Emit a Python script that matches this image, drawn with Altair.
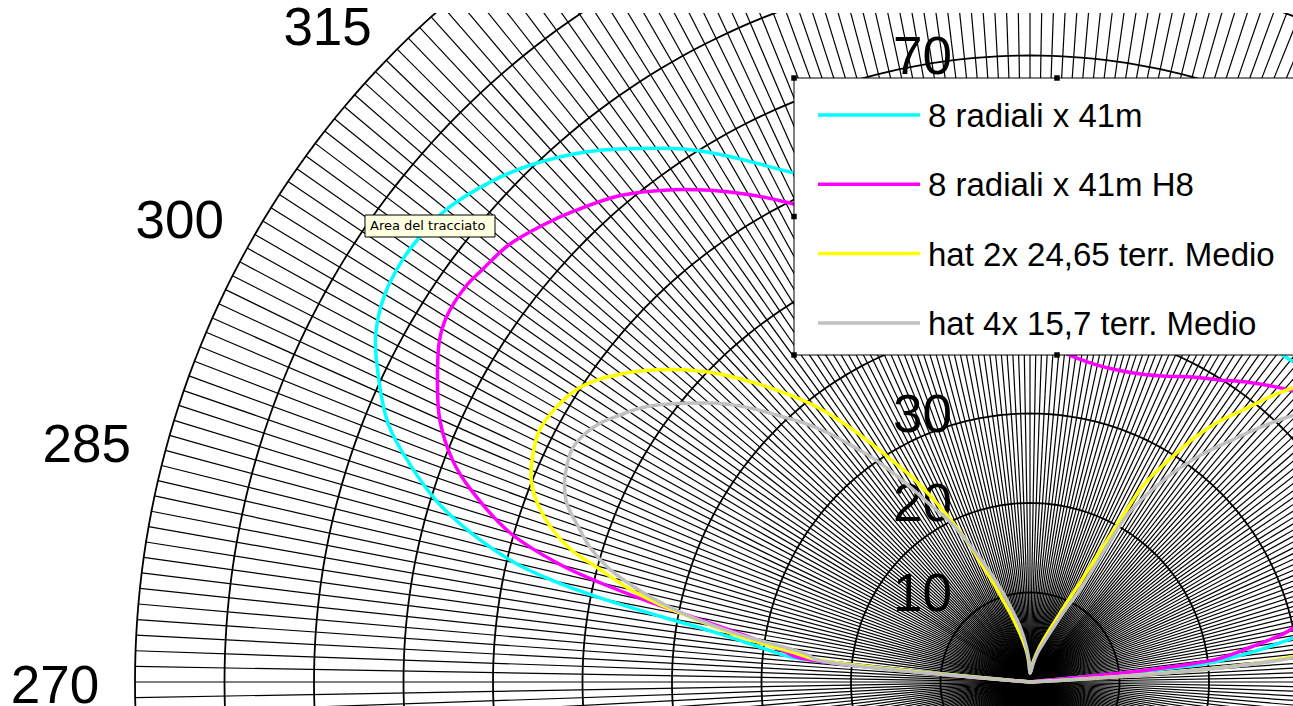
import math

import altair as alt
import pandas as pd

# ---------------------------------------------------------------------------
# Vertical radiation patterns (radar chart, 0 = zenith, 270 = left horizon)
# ---------------------------------------------------------------------------
SERIES = [
    "8 radiali x 41m",
    "8 radiali x 41m H8",
    "hat 2x 24,65 terr. Medio",
    "hat 4x 15,7 terr. Medio",
]
COLORS = ["#00FFFF", "#FF00FF", "#FFFF00", "#C0C0C0"]

CYAN_DEG = [270, 275, 276, 277, 279, 280, 281, 282, 283, 285, 287, 290, 292, 296, 298,
            301, 304, 306, 309, 313, 316, 320, 323, 327, 330, 335, 340, 345, 350, 355,
            0, 10, 20, 30, 38, 41, 45, 50, 55, 60, 65, 70, 75, 78, 80, 81, 82, 83, 84, 85, 90]
CYAN_VAL = [0, 0, 27, 29.5, 35.8, 41.5, 48.5, 54.5, 59, 64.8, 69.4, 74.5, 77.4, 81.2, 82.8,
            84.1, 84.5, 84.4, 83.9, 82.1, 80.3, 77.3, 74.6, 71.0, 67.9, 62.8, 59, 55, 52, 50,
            49, 47.5, 46, 46, 46.2, 46.5, 47.5, 49, 50, 50, 48, 44, 38, 34, 31, 28.5, 26, 23, 20, 0, 0]

MAGENTA_DEG = [270, 275, 276, 277, 279, 281, 282, 283, 284, 286, 289, 291, 294, 297, 300,
               302, 305, 307, 310, 313, 316, 320, 324, 327, 330, 333, 336, 340, 345, 350,
               355, 0, 5, 8, 12, 16, 20, 24, 28, 32, 36, 41, 45, 50, 55, 60, 65, 70, 74,
               77, 79, 81, 83, 84, 85, 90]
MAGENTA_VAL = [0, 0, 26, 27.5, 31.5, 38.8, 44, 49.3, 54, 60.4, 66.1, 69.1, 72.2, 74.3, 76.2,
               76.9, 77.0, 76.6, 76.0, 74.7, 73.2, 71.0, 68.0, 65.5, 62.9, 60.2, 57.5, 53.5,
               48.5, 44, 40.5, 38.5, 37.2, 36.6, 36.2, 36.2, 36.6, 37.4, 38.6, 39.8, 41.4,
               43.4, 45, 47, 47, 45, 42, 38, 35, 31.5, 29.2, 25, 21, 15, 0, 0]

YELLOW_DEG = [270, 275, 276, 277, 278, 279, 280, 281, 282, 283, 285, 286, 288, 290, 292,
              294, 297, 300, 303, 305, 307, 309, 311, 313, 315, 318, 320, 322, 324, 326,
              328, 330, 332, 334, 336, 338, 340, 342, 344, 347, 350, 354, 357, 0, 5, 10,
              15, 20, 23, 25, 27, 28, 29, 30, 32, 34, 36, 38, 41, 45, 50, 55, 60, 65, 70,
              75, 80, 84, 85, 90]
YELLOW_VAL = [0, 0, 24, 26.3, 29.5, 33, 36, 39.3, 42.8, 45.8, 50.5, 53.2, 56.4, 58.6, 60.1,
              60.9, 61.6, 61.2, 60.2, 58.9, 57.2, 55.3, 53.2, 51.0, 48.6, 44.6, 41.9, 39.2,
              36.0, 32.6, 29.3, 26.5, 23.3, 20.1, 17.0, 13.7, 11.5, 9.4, 8.0, 6.2, 4.8, 3.3,
              2.0, 1.0, 1.5, 2.5, 4.0, 6.0, 7.8, 10.0, 13.0, 16.0, 20.0, 25.5, 29.2, 33.0,
              36.0, 38.5, 43.0, 48, 52, 53, 52, 50, 46, 41, 36, 31, 0, 0]

GRAY_DEG = [270, 275, 276, 277, 278, 279, 280, 281, 282, 283, 285, 287, 289, 291, 293,
            295, 297, 299, 301, 303, 305, 307, 309, 311, 313, 315, 317, 319, 321, 323,
            325, 327, 329, 331, 333, 335, 337, 340, 343, 346, 349, 352, 355, 358, 0, 5,
            10, 15, 20, 23, 26, 28, 29, 30, 31, 33, 35, 37, 40, 42, 44, 46, 50, 55, 60,
            65, 70, 75, 80, 84, 85, 90]
GRAY_VAL = [0, 0, 24, 25, 27.5, 31.8, 35.5, 39, 41.8, 44.4, 48.6, 51.4, 53.4, 55.4, 56.5,
            57.1, 57.4, 57.0, 56.1, 54.7, 53.3, 51.5, 49.5, 47.5, 45.4, 43.0, 40.5, 38.3,
            35.8, 33.0, 30.5, 27.6, 24.8, 22.3, 20.5, 18.2, 16.0, 13.0, 10.5, 8.3, 6.6,
            5.0, 3.5, 2.0, 1.0, 1.2, 2.2, 3.5, 5.0, 6.5, 9.0, 11.0, 13.5, 21.0, 23.2, 26.3,
            29.2, 31.8, 35.4, 38.2, 41.0, 43.5, 47, 50, 51, 50, 47, 42, 37, 32, 0, 0]

PATTERNS = [
    (CYAN_DEG, CYAN_VAL),
    (MAGENTA_DEG, MAGENTA_VAL),
    (YELLOW_DEG, YELLOW_VAL),
    (GRAY_DEG, GRAY_VAL),
]

RING_VALUES = [10, 20, 30, 40, 50, 60, 70, 80, 90, 100]
VALUE_TICKS = [10, 20, 30, 70]          # value labels left clear of the legend
SPOKE_STEP = 1                          # one category per degree
ANGLE_TICKS = [270, 285, 300, 315]      # rim labels inside the visible window
TOOLTIP_TEXT = "Area del tracciato"

# ---------------------------------------------------------------------------
# Layout of the (zoomed-in) plot area
# ---------------------------------------------------------------------------
W, H, TOP = 1293, 706, 13
VIEW_H = H - TOP
CX, CY = 1030.0, 682.0            # pixel position of the pole
PX = 8.95                         # pixels per radial unit
R_MAX = RING_VALUES[-1]
LABEL_R = 104

x_scale = alt.Scale(domain=[-CX / PX, (W - CX) / PX], nice=False, zero=False)
y_scale = alt.Scale(domain=[(CY - H) / PX, (CY - TOP) / PX], nice=False, zero=False)


def polar(deg, r):
    a = math.radians(deg)
    return r * math.sin(a), r * math.cos(a)


def X(field):
    return alt.X(field, type="quantitative", scale=x_scale, axis=None)


def Y(field):
    return alt.Y(field, type="quantitative", scale=y_scale, axis=None)


# spokes
spoke_rows = []
for d in range(0, 360, SPOKE_STEP):
    x1, y1 = polar(d, R_MAX)
    spoke_rows.append({"x0": 0.0, "y0": 0.0, "x1": x1, "y1": y1})
spokes = alt.Chart(pd.DataFrame(spoke_rows)).mark_rule(
    clip=True, color="black", strokeWidth=1.2
).encode(x=X("x0"), y=Y("y0"), x2="x1", y2="y1")

# rings (major gridlines)
ring_rows = []
for rv in RING_VALUES:
    for d in range(0, 361, SPOKE_STEP):
        x, y = polar(d, rv)
        ring_rows.append({"ring": rv, "deg": d, "x": x, "y": y})
rings = alt.Chart(pd.DataFrame(ring_rows)).mark_line(
    clip=True, color="black", strokeWidth=1.8
).encode(x=X("x"), y=Y("y"), detail="ring:N", order="deg:Q")

# value axis labels along the zenith spoke
val_df = pd.DataFrame({"v": VALUE_TICKS, "x": [0.0] * len(VALUE_TICKS),
                       "label": [str(v) for v in VALUE_TICKS]})
value_labels = alt.Chart(val_df).mark_text(
    align="right", baseline="middle", dx=-78, dy=2, fontSize=53,
    font="Liberation Sans", color="black"
).encode(x=X("x"), y=Y("v"), text="label:N")

# category (angle) labels around the rim
ang_rows = []
for d in ANGLE_TICKS:
    x, y = polar(d, LABEL_R)
    ang_rows.append({"x": x, "y": y, "label": str(d)})
angle_labels = alt.Chart(pd.DataFrame(ang_rows)).mark_text(
    align="right", baseline="middle", dy=5, fontSize=53,
    font="Liberation Sans", color="black"
).encode(x=X("x"), y=Y("y"), text="label:N")

# pattern curves, drawn in series order
curves = []
for name, color, (degs, vals) in zip(SERIES, COLORS, PATTERNS):
    rows = []
    for i, (d, v) in enumerate(zip(degs, vals)):
        x, y = polar(d, v)
        rows.append({"i": i, "x": x, "y": y, "series": name})
    curves.append(
        alt.Chart(pd.DataFrame(rows)).mark_line(
            clip=True, color=color, strokeWidth=3.5, strokeJoin="round",
            interpolate="catmull-rom"
        ).encode(x=X("x"), y=Y("y"), order="i:Q")
    )

# legend box
one = pd.DataFrame({"k": [0]})
LEG_L, LEG_R, LEG_T, LEG_B = 794, 1320, 78, 355
legend_box = alt.Chart(one).mark_rect(
    fill="white", stroke="black", strokeWidth=1
).encode(
    x=alt.value(LEG_L), x2=alt.value(LEG_R),
    y=alt.value(LEG_T - TOP), y2=alt.value(LEG_B - TOP),
)

ROW0, ROW_STEP = 115, 69.3
leg_df = pd.DataFrame({
    "series": SERIES,
    "py": [ROW0 + i * ROW_STEP - TOP for i in range(len(SERIES))],
    "ty": [ROW0 + i * ROW_STEP - TOP + 2 for i in range(len(SERIES))],
})
legend_lines = alt.Chart(leg_df).mark_rule(strokeWidth=3.5).encode(
    x=alt.value(818), x2=alt.value(920),
    y=alt.Y("py:Q", scale=None),
    color=alt.Color("series:N", scale=alt.Scale(domain=SERIES, range=COLORS), legend=None),
)
legend_text = alt.Chart(leg_df).mark_text(
    align="left", baseline="middle", fontSize=33, font="Liberation Sans", color="black"
).encode(x=alt.value(928), y=alt.Y("ty:Q", scale=None), text="series:N")

handle_df = pd.DataFrame({
    "hx": [LEG_L, (LEG_L + LEG_R) / 2, LEG_L, LEG_L, (LEG_L + LEG_R) / 2],
    "hy": [LEG_T - TOP, LEG_T - TOP, (LEG_T + LEG_B) / 2 - TOP, LEG_B - TOP, LEG_B - TOP],
})
handles = alt.Chart(handle_df).mark_square(size=30, color="black", opacity=1, filled=True).encode(
    x=alt.X("hx:Q", scale=None), y=alt.Y("hy:Q", scale=None)
)

# hover tooltip of the plot area
tip_box = alt.Chart(one).mark_rect(fill="#FFFFE1", stroke="black", strokeWidth=1).encode(
    x=alt.value(365), x2=alt.value(495), y=alt.value(215 - TOP), y2=alt.value(237 - TOP)
)
tip_text = alt.Chart(pd.DataFrame({"t": [TOOLTIP_TEXT]})).mark_text(
    align="left", baseline="middle", fontSize=13, font="DejaVu Sans", color="black"
).encode(x=alt.value(370), y=alt.value(226 - TOP), text="t:N")

chart = alt.layer(
    spokes, rings, value_labels, angle_labels, *curves,
    legend_box, legend_lines, legend_text, handles, tip_box, tip_text,
).properties(
    width=W, height=VIEW_H,
    padding={"left": 0, "top": TOP, "right": 0, "bottom": 0},
    autosize="none", background="white",
).configure_view(stroke=None)

chart.save("out.html", embed_options={"renderer": "svg", "actions": False})
